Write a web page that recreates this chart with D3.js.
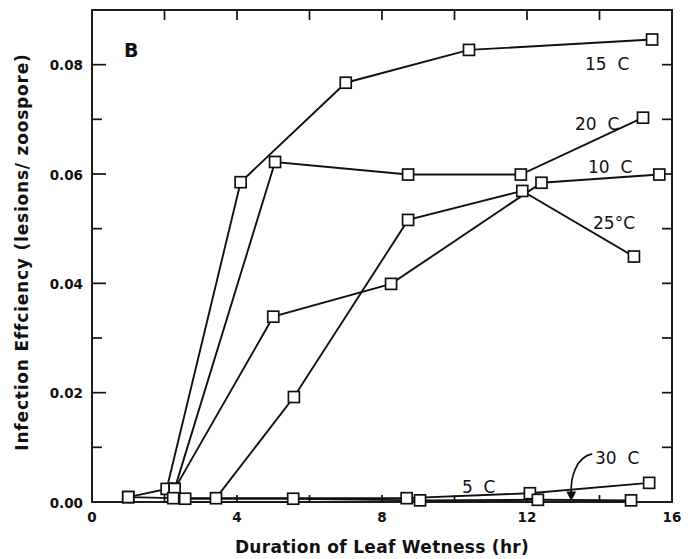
<!DOCTYPE html>
<html>
<head>
<meta charset="utf-8">
<script src="https://cdn.jsdelivr.net/npm/d3@7/dist/d3.min.js"></script>
<style>
  html, body { margin: 0; padding: 0; background: #fff; }
  svg { display: block; }
  text { font-family: "DejaVu Sans", "Liberation Sans", sans-serif; fill: #111; }
</style>
</head>
<body>
<svg id="chart" width="690" height="559"></svg>
<script>
// Infection efficiency by leaf wetness duration, one series per temperature
const xTicksLabelled = [0, 4, 8, 12, 16];
const xTicksMinor = [2, 4, 6, 8, 10, 12, 14];
const yTicksMajor = [0, 0.02, 0.04, 0.06, 0.08];
const yTicksMinor = [0.01, 0.03, 0.05, 0.07];
const yTicksRight = [0.01, 0.02, 0.03, 0.04, 0.05, 0.06, 0.07, 0.08];

const hours15 = [1.0, 2.06, 4.1, 7.0, 10.4, 15.45];
const eff15   = [0.0009, 0.0024, 0.0585, 0.0767, 0.0827, 0.0846];

const hours20 = [2.28, 5.05, 8.72, 11.83, 15.2];
const eff20   = [0.0024, 0.0622, 0.0599, 0.0599, 0.0703];

const hours10 = [2.28, 5.0, 8.25, 12.4, 15.65];
const eff10   = [0.0024, 0.0339, 0.0399, 0.0584, 0.0599];

const hours25 = [3.42, 5.57, 8.72, 11.87, 14.95];
const eff25   = [0.0007, 0.0192, 0.0516, 0.0569, 0.0449];

const hours30 = [1.0, 2.24, 8.68, 12.08, 15.37];
const eff30   = [0.0009, 0.0007, 0.0007, 0.0016, 0.0035];

const hours5  = [2.57, 5.55, 9.05, 12.3, 14.87];
const eff5    = [0.0006, 0.0006, 0.0003, 0.0004, 0.0003];

const seriesNames = ["15 C", "20 C", "10 C", "25°C", "30 C", "5 C"];
const seriesHours = [hours15, hours20, hours10, hours25, hours30, hours5];
const seriesEff   = [eff15, eff20, eff10, eff25, eff30, eff5];

const svg = d3.select("#chart");
const plotLeft = 92, plotRight = 672, plotTop = 10, plotBottom = 502;

const x = d3.scaleLinear().domain([0, 16]).range([plotLeft, plotRight]);
const y = d3.scaleLinear().domain([0, 0.09]).range([plotBottom, plotTop]);

// frame
svg.append("rect")
  .attr("x", plotLeft).attr("y", plotTop)
  .attr("width", plotRight - plotLeft).attr("height", plotBottom - plotTop)
  .attr("fill", "none").attr("stroke", "#111").attr("stroke-width", 1.9);

// inward ticks on all four sides
function ticks(data, x1, y1, x2, y2) {
  svg.append("g").selectAll("line").data(data).join("line")
    .attr("x1", x1).attr("y1", y1).attr("x2", x2).attr("y2", y2)
    .attr("stroke", "#111").attr("stroke-width", 1.7);
}
ticks(yTicksMajor.filter(d => d > 0), plotLeft, d => y(d), plotLeft + 14, d => y(d));
ticks(yTicksMinor, plotLeft, d => y(d), plotLeft + 10, d => y(d));
ticks(yTicksRight, plotRight, d => y(d), plotRight - 10, d => y(d));
ticks(xTicksMinor, d => x(d), plotTop, d => x(d), plotTop + 10);
ticks(xTicksMinor, d => x(d), plotBottom, d => x(d), plotBottom - 7);

// tick labels
svg.append("g").selectAll("text").data(yTicksMajor).join("text")
  .attr("x", plotLeft - 9).attr("y", d => y(d) + 5.5)
  .attr("text-anchor", "end").attr("font-size", 13.5).attr("font-weight", 600)
  .text(d => d3.format(".2f")(d));
svg.append("g").selectAll("text").data(xTicksLabelled).join("text")
  .attr("x", d => x(d)).attr("y", plotBottom + 20)
  .attr("text-anchor", "middle").attr("font-size", 13.5).attr("font-weight", 600)
  .text(d => d);

// axis titles
svg.append("text")
  .attr("x", (plotLeft + plotRight) / 2).attr("y", 553)
  .attr("text-anchor", "middle").attr("font-size", 17).attr("font-weight", "bold")
  .attr("letter-spacing", 0.3)
  .text("Duration of Leaf Wetness (hr)");
svg.append("text")
  .attr("transform", "translate(28,252) rotate(-90)")
  .attr("text-anchor", "middle").attr("font-size", 17).attr("font-weight", "bold")
  .attr("letter-spacing", 0.8)
  .text("Infection Effciency (lesions/ zoospore)");

// series lines and square markers
const line = d3.line().x(d => x(d[0])).y(d => y(d[1]));
seriesHours.forEach((hrs, i) => {
  const pts = hrs.map((h, j) => [h, seriesEff[i][j]]);
  svg.append("path").datum(pts)
    .attr("d", line).attr("fill", "none")
    .attr("stroke", "#111").attr("stroke-width", 1.9);
});
seriesHours.forEach((hrs, i) => {
  const pts = hrs.map((h, j) => [h, seriesEff[i][j]]);
  svg.append("g").selectAll("rect").data(pts).join("rect")
    .attr("x", d => x(d[0]) - 5.5).attr("y", d => y(d[1]) - 5.5)
    .attr("width", 11).attr("height", 11)
    .attr("fill", "#fff").attr("stroke", "#111").attr("stroke-width", 1.7);
});

// series labels
const labelPos = [[585, 70], [575, 130], [588, 173], [593, 229], [595, 464], [462, 493]];
seriesNames.forEach((name, i) => {
  svg.append("text")
    .attr("x", labelPos[i][0]).attr("y", labelPos[i][1])
    .attr("font-size", 17)
    .attr("xml:space", "preserve")
    .text(name.replace(" ", "  "));
});
svg.append("text").attr("x", 124).attr("y", 57)
  .attr("font-size", 19).attr("font-weight", 600).text("B");

// curved pointer from the 30 C label down to its line
svg.append("path")
  .attr("d", `M${x(13.8)},${y(0.0088)} C${x(13.35)},${y(0.0082)} ${x(13.2)},${y(0.0045)} ${x(13.22)},${y(0.0016)}`)
  .attr("fill", "none").attr("stroke", "#111").attr("stroke-width", 1.7);
svg.append("path")
  .attr("d", `M${x(13.22) - 5},${y(0.0019)} L${x(13.22) + 5},${y(0.0019)} L${x(13.22)},${y(0.0002)} Z`)
  .attr("fill", "#111");
</script>
</body>
</html>
